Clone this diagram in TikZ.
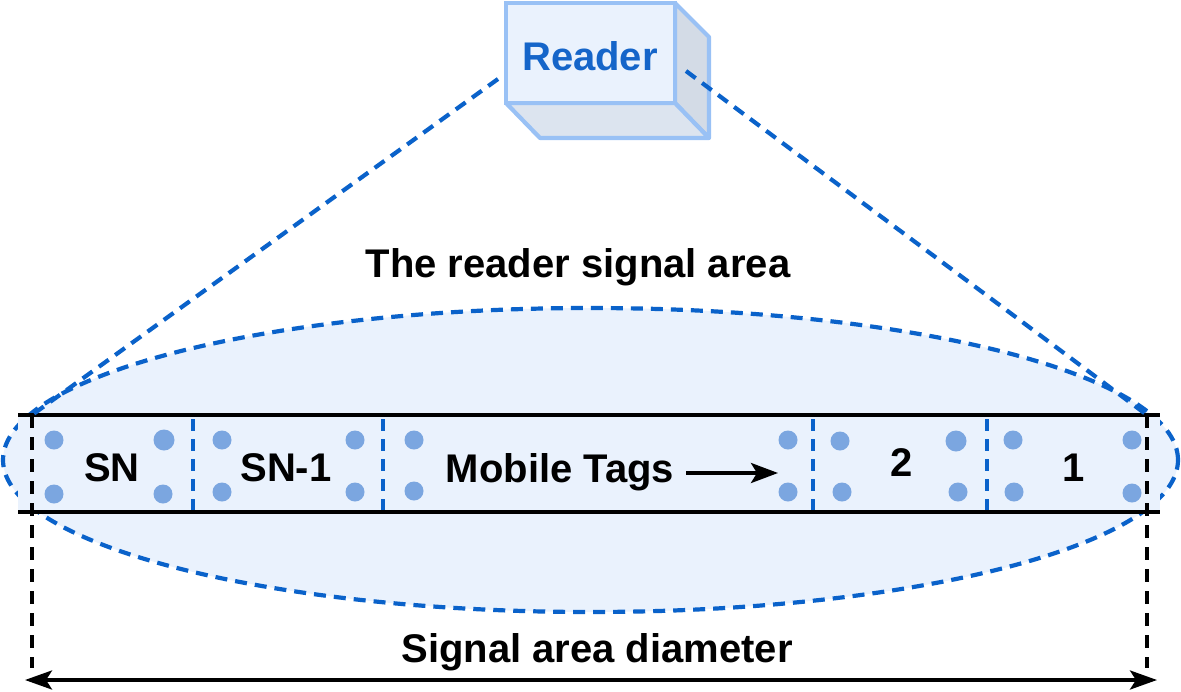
\documentclass[tikz,border=0pt]{standalone}
\usepackage{fontspec}
\setmainfont{Liberation Sans}
\usetikzlibrary{arrows.meta}
\definecolor{bandfill}{HTML}{EAF2FD}
\definecolor{dashblue}{HTML}{0A62CA}
\definecolor{dotblue}{HTML}{7BA6E0}
\definecolor{readerborder}{HTML}{99C1F5}
\definecolor{readertext}{HTML}{1565C9}
\definecolor{sideface}{HTML}{D3DBE6}
\definecolor{bottomface}{HTML}{DCE4EF}
\begin{document}
\begin{tikzpicture}[x=1pt,y=-1pt,
  bluedash/.style={draw=dashblue,line width=4.2pt,dash pattern=on 12pt off 8pt},
  blackdash/.style={draw=black,line width=4.2pt,dash pattern=on 13pt off 9pt},
  bandline/.style={draw=black,line width=4.2pt},
  tagdot/.style={circle,fill=dotblue,inner sep=0pt,minimum size=19pt},
  bigdot/.style={tagdot,minimum size=21pt},
  lbl/.style={font=\fontsize{40}{40}\selectfont\bfseries,inner sep=0pt,anchor=base}
]
\useasboundingbox (0,0) rectangle (1181,691);

% signal ellipse
\fill[bandfill] (590.5,460) ellipse [x radius=587.5pt, y radius=152pt];
\draw[bluedash] (590.5,460) ellipse [x radius=587.5pt, y radius=152pt];

% band
\fill[bandfill] (18,415) rectangle (1160,512);
\coordinate (bandTLs) at (18,415);
\coordinate (bandTLe) at (1160,415);
\coordinate (bandBLs) at (18,512);
\coordinate (bandBLe) at (1160,512);
\draw[bandline] (bandTLs) -- (bandTLe);
\draw[bandline] (bandBLs) -- (bandBLe);

% separators
\foreach \sx in {193,383,813,987}{
  \draw[bluedash] (\sx,419) -- (\sx,510);
}

% diameter guides
\coordinate (edgeL) at (32,415);
\coordinate (edgeR) at (1147,415);
\coordinate (edgeLb) at (32,668);
\coordinate (edgeRb) at (1147,668);
\draw[blackdash] (edgeL) -- (edgeLb);
\draw[blackdash] (edgeR) -- (edgeRb);

% diameter arrow
\coordinate (diamL) at (25,680);
\coordinate (diamR) at (1157,680);
\draw[line width=3.6pt,{Stealth[length=27pt,width=19pt,inset=6pt]}-{Stealth[length=27pt,width=19pt,inset=6pt]}] (diamL) -- (diamR);

% dots
\node[tagdot] (d1) at (54,440) {};
\node[bigdot] (d2) at (164,440) {};
\node[tagdot] (d3) at (54,494) {};
\node[tagdot] (d4) at (163,494) {};
\node[tagdot] (d5) at (222,440) {};
\node[tagdot] (d6) at (355,440) {};
\node[tagdot] (d7) at (222,492) {};
\node[tagdot] (d8) at (355,492) {};
\node[tagdot] (d9) at (414,440) {};
\node[tagdot] (d10) at (414,491) {};
\node[tagdot] (d11) at (788,440) {};
\node[tagdot] (d12) at (788,492) {};
\node[tagdot] (d13) at (840,441) {};
\node[bigdot] (d14) at (956,441) {};
\node[tagdot] (d15) at (842,492) {};
\node[tagdot] (d16) at (958,492) {};
\node[tagdot] (d17) at (1013,440) {};
\node[tagdot] (d18) at (1132,440) {};
\node[tagdot] (d19) at (1014,492) {};
\node[tagdot] (d20) at (1132,493) {};

% band labels
\node[lbl] (sn) at (112,481) {SN};
\node[lbl] (sn1) at (286,481) {SN-1};
\node[lbl] (mobile) at (560,482) {Mobile Tags};
\node[lbl] (two) at (902,476) {2};
\node[lbl] (one) at (1074,481) {1};
\coordinate (mvS) at (686,473);
\coordinate (mvE) at (778,473);
\draw[line width=3.6pt,-{Stealth[length=27pt,width=20pt,inset=6pt]}] (mvS) -- (mvE);

% reader box
\fill[sideface,draw=readerborder,line width=4.2pt,line join=round] (675,3) -- (709,37) -- (709,138) -- (675,103) -- cycle;
\fill[bottomface,draw=readerborder,line width=4.2pt,line join=round] (506,103) -- (675,103) -- (709,138) -- (540,138) -- cycle;
\node[draw=readerborder,fill=bandfill,line width=4.2pt,minimum width=169pt,minimum height=100pt,inner sep=0pt] (reader) at (590.5,53) {};
\node[lbl,text=readertext] (readerlbl) at (590,70) {Reader};

% reader cone
\coordinate (coneL) at (498,79);
\coordinate (coneR) at (686,71);
\draw[bluedash] (coneL) -- (edgeL);
\draw[bluedash] (coneR) -- (edgeR);

% titles
\node[lbl] (area) at (578,277) {The reader signal area};
\node[lbl] (diam) at (597,662) {Signal area diameter};
\end{tikzpicture}
\end{document}
